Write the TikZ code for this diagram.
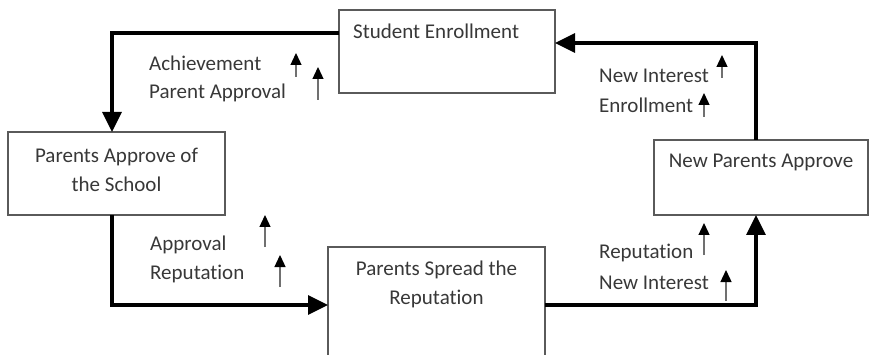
\documentclass[tikz,border=0pt]{standalone}
\usepackage{fontspec}
\setmainfont{Carlito}[Ligatures=NoCommon]
\usetikzlibrary{arrows.meta}
\definecolor{inkgray}{HTML}{383838}
\definecolor{framegray}{HTML}{5A5A5A}
\definecolor{shaftgray}{HTML}{707070}
\begin{document}
\begin{tikzpicture}[x=1pt,y=-1pt,
  stagebox/.style={draw=framegray, line width=1.4pt, fill=white, inner sep=0pt, outer sep=0pt},
  stagetext/.style={text=inkgray, font=\fontsize{21}{29}\selectfont, align=center, inner sep=0pt},
  cuetext/.style={text=inkgray, font=\fontsize{21}{29}\selectfont, anchor=west, inner sep=0pt},
  flow/.style={line width=3.4pt, -{Triangle[length=20pt,width=19pt]}},
  cue/.style={draw=shaftgray, line width=1.3pt, -{Triangle[length=12pt,width=11pt,color=black]}}
]
\clip (0,0) rectangle (869,355);

% stages of the cycle
\node[stagebox, minimum width=216pt, minimum height=83pt] (se)  at (447,51.5) {};
\node[stagebox, minimum width=217pt, minimum height=83pt] (pa)  at (116.5,173.5) {};
\node[stagebox, minimum width=217pt, minimum height=124pt] (ps) at (436.5,309) {};
\node[stagebox, minimum width=214pt, minimum height=75pt] (npa) at (761,177.5) {};

\node[stagetext, anchor=west] (set) at (353,31) {Student Enrollment};
\node[stagetext] (pat) at (116.5,170) {Parents Approve of\\the School};
\node[stagetext] (pst) at (436.5,284) {Parents Spread the\\Reputation};
\node[stagetext] (npat) at (761,162) {New Parents Approve};

% bends of the main loop
\coordinate (c1) at (112,33);
\coordinate (c2) at (112,305);
\coordinate (c3) at (756,305);
\coordinate (c4) at (756,43);

\draw[flow] (se.west |- c1) -- (c1) -- (c1 |- pa.north);
\draw[flow] (c1 |- pa.south) -- (c2) -- (ps.west |- c2);
\draw[flow] (ps.east |- c3) -- (c3) -- (c3 |- npa.south);
\draw[flow] (c4 |- npa.north) -- (c4) -- (se.east |- c4);

% rising quantities along each link
\node[cuetext] (l1) at (149,63) {Achievement};
\node[cuetext] (l2) at (149,93) {Parent Approval};
\coordinate (a1t) at (296,77); \coordinate (a1h) at (296,53);
\coordinate (a2t) at (318,100); \coordinate (a2h) at (318,67);
\draw[cue] (a1t) -- (a1h);
\draw[cue] (a2t) -- (a2h);

\node[cuetext] (l3) at (599,76) {New Interest};
\node[cuetext] (l4) at (599,105) {Enrollment};
\coordinate (a3t) at (722,78); \coordinate (a3h) at (722,55);
\coordinate (a4t) at (704,117); \coordinate (a4h) at (704,93);
\draw[cue] (a3t) -- (a3h);
\draw[cue] (a4t) -- (a4h);

\node[cuetext] (l5) at (150,245) {Approval};
\node[cuetext] (l6) at (150,274) {Reputation};
\coordinate (a5t) at (265,247); \coordinate (a5h) at (265,215);
\coordinate (a6t) at (280,287); \coordinate (a6h) at (280,255);
\draw[cue] (a5t) -- (a5h);
\draw[cue] (a6t) -- (a6h);

\node[cuetext] (l7) at (599,253) {Reputation};
\node[cuetext] (l8) at (599,283) {New Interest};
\coordinate (a7t) at (704,255); \coordinate (a7h) at (704,223);
\coordinate (a8t) at (726,301); \coordinate (a8h) at (726,270);
\draw[cue] (a7t) -- (a7h);
\draw[cue] (a8t) -- (a8h);
\end{tikzpicture}
\end{document}
